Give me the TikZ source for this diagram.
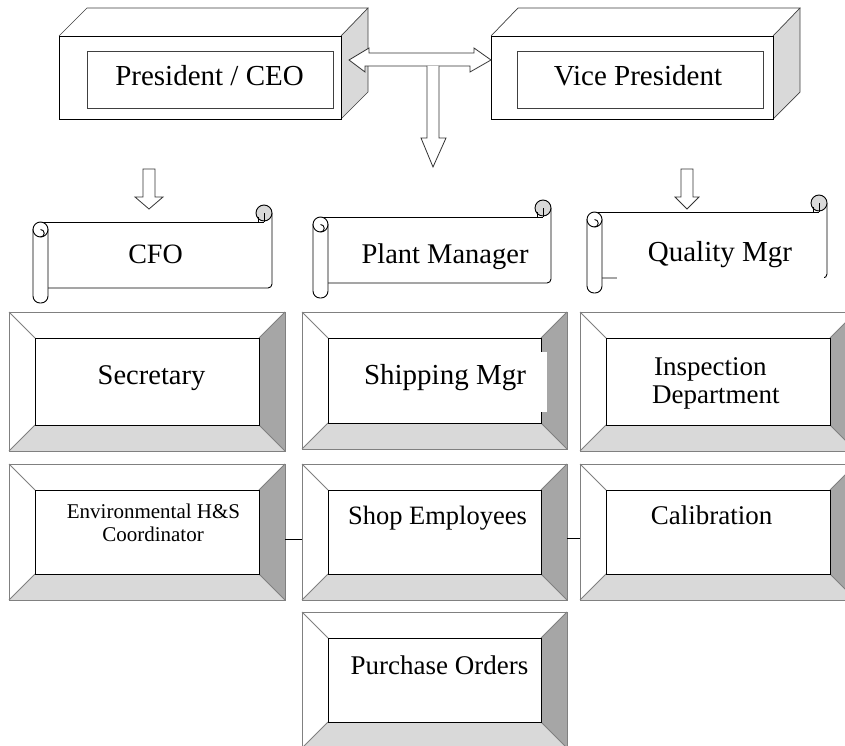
\documentclass[tikz,border=0pt]{standalone}
\usepackage{fontspec}
\setmainfont{Liberation Serif}
\usetikzlibrary{calc}
\definecolor{lightface}{HTML}{D9D9D9}
\definecolor{darkface}{HTML}{A6A6A6}
\definecolor{edgegrey}{HTML}{808080}
\tikzset{
  bevout/.style={draw=edgegrey,line width=0.9pt},
  bevin/.style={draw=black,line width=0.9pt},
  boxline/.style={draw=black,line width=0.9pt,line join=miter},
  thinline/.style={draw=black!75,line width=0.7pt},
  scrl/.style={draw=black,line width=0.9pt},
  holder/.style={inner sep=0pt,outer sep=0pt,draw=none},
  lbl/.style={inner sep=0pt,anchor=base},
  blockarrow/.style={draw=black!80,line width=0.8pt,fill=white,line join=miter},
}
\newcommand{\bevelbox}[5]{%
  \fill[white] (#2,#3) rectangle (#4,#5);
  \fill[darkface] (#4,#3) -- (#4,#5) -- ({#4-26},{#5-26}) -- ({#4-26},{#3+26}) -- cycle;
  \fill[lightface] (#2,#5) -- (#4,#5) -- ({#4-26},{#5-26}) -- ({#2+26},{#5-26}) -- cycle;
  \draw[bevout] (#2,#3) rectangle (#4,#5);
  \draw[bevout] (#2,#3) -- ({#2+26},{#3+26}) (#4,#3) -- ({#4-26},{#3+26})
                (#2,#5) -- ({#2+26},{#5-26}) (#4,#5) -- ({#4-26},{#5-26});
  \draw[bevin] ({#2+26},{#3+26}) rectangle ({#4-26},{#5-26});
  \path ({(#2+#4)/2},{(#3+#5)/2}) node[holder,minimum width={(#4-#2)*1pt},minimum height={(#5-#3)*1pt}] (#1) {};
}
\newcommand{\scrollbox}[5]{%
  \fill[white] ({#2+7},#4) rectangle (#3,#5);
  \draw[scrl] ({#2+7.5},#4) -- ({#3-8},#4);
  \draw[scrl,rounded corners=4] (#3,{#4-9}) -- (#3,#5) -- ({#2+15},#5);
  \draw[scrl,fill=lightface] ({#3-8},{#4-9}) circle[radius=8];
  \draw[scrl] ({#3-14},#4) -- ({#3-14},{#4-5}) ({#3-8},{#4-9}) -- ({#3-8},#4);
  \draw[scrl,fill=white,rounded corners=7] (#2,{#4+7}) -- (#2,{#5+15}) -- ({#2+15},{#5+15}) -- ({#2+15},{#4+7});
  \draw[scrl,fill=white] ({#2+7.5},{#4+7.5}) circle[radius=7.5];
  \draw[scrl] ({#2+7.5},{#4+15}) arc[start angle=90,end angle=-90,radius=3.75];
  \path ({(#2+#3)/2},{(#4+#5)/2}) node[holder,minimum width={(#3-#2)*1pt},minimum height={(#5-#4)*1pt}] (#1) {};
}
\begin{document}
\begin{tikzpicture}[x=1pt,y=-1pt]
\useasboundingbox (0,0) rectangle (845,746);
\clip (0,0) rectangle (845,746);
\fill[white] (0,0) rectangle (845,746);

% ---- 3D boxes
\fill[white] (59,36) -- (87,8) -- (368,8) -- (341,36) -- cycle;
\fill[lightface] (341,36) -- (368,8) -- (368,92) -- (341,119) -- cycle;
\draw[thinline] (59,36) -- (87,8) -- (368,8) -- (341,36);
\draw[thinline] (368,8) -- (368,92) -- (341,119);
\draw[boxline] (59,36) rectangle (341,119);
\draw[thinline] (87,51) rectangle (333,108);
\node[holder,minimum width=282pt,minimum height=83pt] (ceo) at (200,77.5) {};

\fill[white] (491,36) -- (518,8) -- (800,8) -- (773,36) -- cycle;
\fill[lightface] (773,36) -- (800,8) -- (800,92) -- (773,119) -- cycle;
\draw[thinline] (491,36) -- (518,8) -- (800,8) -- (773,36);
\draw[thinline] (800,8) -- (800,92) -- (773,119);
\draw[boxline] (491,36) rectangle (773,119);
\draw[thinline] (517,51) rectangle (763,108);
\node[holder,minimum width=282pt,minimum height=83pt] (vp) at (632,77.5) {};

\node[lbl,font=\fontsize{29}{31}\selectfont] (tceo) at (209.5,86) {President / CEO};
\node[lbl,font=\fontsize{29}{31}\selectfont] (tvp) at (638,86) {Vice President};

% ---- block arrows
\draw[blockarrow] (ceo.east |- 0,60) ++(8,0) coordinate (dl)
  (dl) -- ++(20,-12) -- ++(0,5) -- ++(105,0) -- ++(0,-5) -- (vp.west |- 0,60) -- ++(-21,12)
  -- ++(0,-6) -- ++(-105,0) -- ++(0,6) -- cycle;
\draw[blockarrow] (427,66) -- (427,138) -- (421,138) -- (433,167) -- (446,138) -- (439,138) -- (439,66);
\draw[blockarrow] (143,169) -- (155,169) -- (155,197) -- (163,197) -- (149,209) -- (135,197) -- (143,197) -- cycle;
\draw[blockarrow] (681,169) -- (693,169) -- (693,197) -- (699,197) -- (687,209) -- (675,197) -- (681,197) -- cycle;

% ---- scrolls
\scrollbox{cfo}{33}{272}{222}{288}
\scrollbox{pm}{313}{551}{217}{283}
\scrollbox{qm}{587}{827}{212}{278}
\fill[white] (617,274) rectangle (824,282);

\node[lbl,font=\fontsize{28}{30}\selectfont] (tcfo) at (155.5,263) {CFO};
\node[lbl,font=\fontsize{28.5}{30}\selectfont] (tpm) at (445,263) {Plant Manager};
\node[lbl,font=\fontsize{29}{30}\selectfont] (tqm) at (720,261) {Quality Mgr};

% ---- bevel boxes
\bevelbox{sec}{9}{312}{285}{451}
\bevelbox{ship}{302}{312}{567}{449}
\fill[white] (540,352) rectangle (547,412);
\bevelbox{insp}{580}{312}{856}{451}
\bevelbox{env}{9}{464}{285}{600}
\bevelbox{shop}{302}{464}{567}{600}
\bevelbox{cal}{580}{464}{856}{600}
\bevelbox{po}{302}{612}{567}{748}

\draw[line width=0.9pt] ($(env.east)+(0,7)$) -- ($(shop.west)+(0,7)$);
\draw[line width=0.9pt] ($(shop.east)+(0,6)$) -- ($(cal.west)+(0,6)$);

\node[lbl,font=\fontsize{28.5}{30}\selectfont] (tsec) at (151.5,384) {Secretary};
\node[lbl,font=\fontsize{29}{30}\selectfont] (tship) at (445,384) {Shipping Mgr};
\node[lbl,anchor=base west,font=\fontsize{27}{28}\selectfont] (tinsp1) at (654,375) {Inspection};
\node[lbl,anchor=base west,font=\fontsize{27}{28}\selectfont] (tinsp2) at (652,403) {Department};
\node[lbl,font=\fontsize{21}{23}\selectfont] (tenv1) at (153.5,518) {Environmental H\&S};
\node[lbl,font=\fontsize{21}{23}\selectfont] (tenv2) at (153,541) {Coordinator};
\node[lbl,font=\fontsize{26.5}{28}\selectfont] (tshop) at (437.5,524) {Shop Employees};
\node[lbl,font=\fontsize{27}{28}\selectfont] (tcal) at (711.5,524) {Calibration};
\node[lbl,font=\fontsize{27}{28}\selectfont] (tpo) at (439.5,674) {Purchase Orders};
\end{tikzpicture}
\end{document}
